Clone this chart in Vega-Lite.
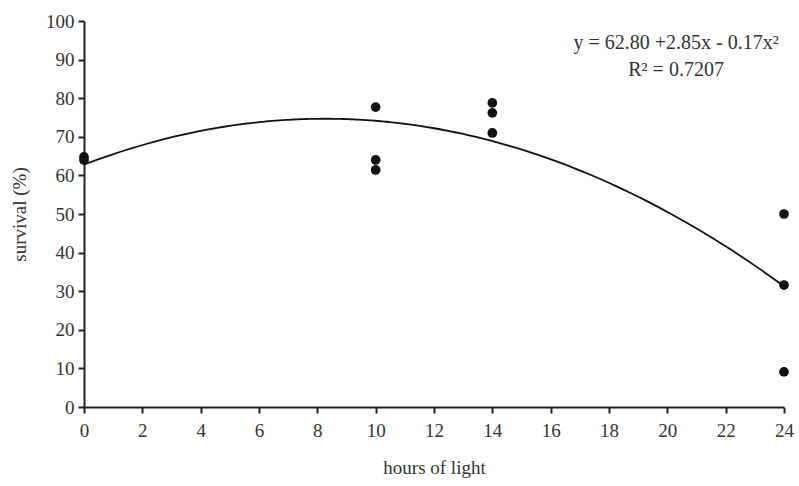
{
  "$schema": "https://vega.github.io/schema/vega-lite/v6.json",
  "width": 700,
  "height": 386,
  "autosize": {"type": "none"},
  "padding": {"left": 84, "top": 21, "right": 15, "bottom": 79},
  "background": "white",
  "config": {
    "view": {"stroke": null},
    "font": "Liberation Serif"
  },
  "datasets": {
    "obs": [
      {"hours": 0, "survival": 64.8},
      {"hours": 0, "survival": 64.0},
      {"hours": 10, "survival": 77.7},
      {"hours": 10, "survival": 64.0},
      {"hours": 10, "survival": 61.4},
      {"hours": 14, "survival": 78.8},
      {"hours": 14, "survival": 76.2},
      {"hours": 14, "survival": 71.0},
      {"hours": 24, "survival": 50.0},
      {"hours": 24, "survival": 31.6},
      {"hours": 24, "survival": 9.1}
    ],
    "notes": [
      {"hours": 20.3, "survival": 94.2, "label": "y = 62.80 +2.85x - 0.17x²"},
      {"hours": 20.3, "survival": 87.3, "label": "R² = 0.7207"}
    ]
  },
  "encoding": {
    "x": {
      "field": "hours", "type": "quantitative",
      "scale": {"domain": [0, 24], "nice": false},
      "axis": {
        "values": [0,2,4,6,8,10,12,14,16,18,20,22,24],
        "title": "hours of light",
        "grid": false, "domainColor": "#222", "domainWidth": 2, "tickColor": "#222", "tickWidth": 2, "tickSize": 6,
        "labelFont": "Liberation Serif", "labelFontSize": 19, "labelColor": "#333", "labelOverlap": false, "labelFlush": false,
        "labelPadding": 8,
        "titleFont": "Liberation Serif", "titleFontSize": 19, "titleFontWeight": "normal", "titleColor": "#333", "titlePadding": 18
      }
    },
    "y": {
      "field": "survival", "type": "quantitative",
      "scale": {"domain": [0, 100], "nice": false},
      "axis": {
        "values": [0,10,20,30,40,50,60,70,80,90,100],
        "title": "survival (%)",
        "grid": false, "domainColor": "#222", "domainWidth": 2, "tickColor": "#222", "tickWidth": 2, "tickSize": 6,
        "labelFont": "Liberation Serif", "labelFontSize": 19, "labelColor": "#333", "labelOverlap": false, "labelFlush": false,
        "labelPadding": 4,
        "titleFont": "Liberation Serif", "titleFontSize": 19, "titleFontWeight": "normal", "titleColor": "#333", "titlePadding": 16
      }
    }
  },
  "layer": [
    {
      "data": {"name": "obs"},
      "transform": [
        {"regression": "survival", "on": "hours", "method": "poly", "order": 2, "extent": [0, 24]}
      ],
      "mark": {"type": "line", "color": "#111", "strokeWidth": 1.8, "interpolate": "monotone"}
    },
    {
      "data": {"name": "obs"},
      "mark": {"type": "circle", "color": "#111", "opacity": 1, "size": 95}
    },
    {
      "data": {"name": "notes"},
      "mark": {"type": "text", "font": "Liberation Serif", "fontSize": 20, "color": "#333", "align": "center", "baseline": "middle"},
      "encoding": {
        "text": {"field": "label"}
      }
    }
  ]
}
